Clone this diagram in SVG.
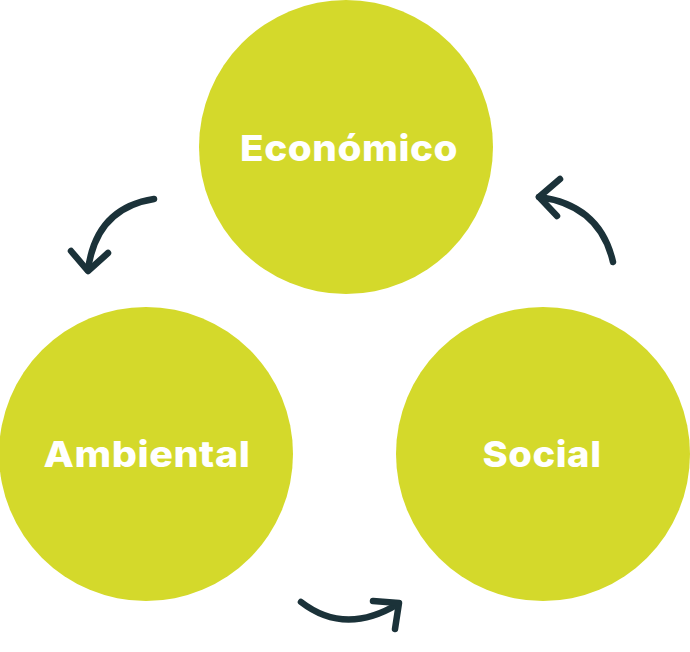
<svg xmlns="http://www.w3.org/2000/svg" width="690" height="652" viewBox="0 0 690 652">
<style>
.c{fill:#D4D92B}
.t{fill:#fff;font-family:Inter,"Open Sans",sans-serif;font-weight:800;font-size:36px;text-anchor:middle;letter-spacing:0.5px}
.a{fill:none;stroke:#1B3239;stroke-width:6.5;stroke-linecap:round;stroke-linejoin:round}
</style>
<g id="economico"><circle class="c" cx="346" cy="147" r="147"/><text class="t" x="349" y="161" textLength="218" lengthAdjust="spacingAndGlyphs">Económico</text></g>
<g id="ambiental"><circle class="c" cx="146" cy="454" r="147"/><text class="t" x="147" y="467" textLength="207" lengthAdjust="spacingAndGlyphs">Ambiental</text></g>
<g id="social"><circle class="c" cx="543" cy="454" r="147"/><text class="t" x="542" y="467" textLength="119" lengthAdjust="spacingAndGlyphs">Social</text></g>
<g id="connectors">
<path class="a" d="M154,199 Q96,208 88,270"/>
<path class="a" d="M71,251 L88,271 L108,253"/>
<path class="a" d="M613,262 Q600,205 539,197"/>
<path class="a" d="M560,179 L539,197 L557,216"/>
<path class="a" d="M301,602 Q345,636 398,604"/>
<path class="a" d="M373,601 L399,603 L395,629"/>
</g>
</svg>
